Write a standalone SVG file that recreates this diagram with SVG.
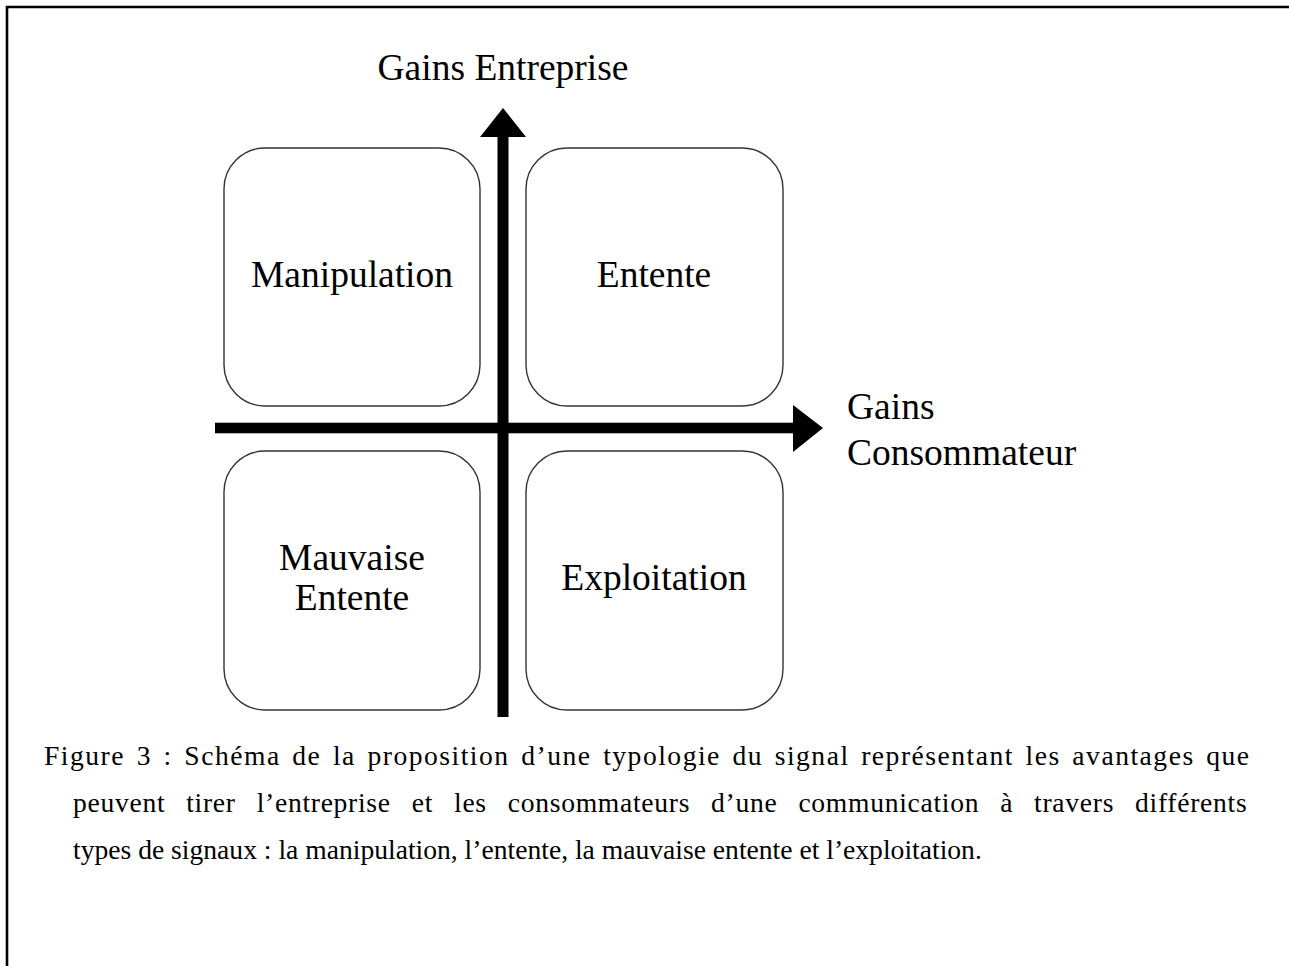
<svg xmlns="http://www.w3.org/2000/svg" width="1289" height="966" viewBox="0 0 1289 966">
<style>
.box{fill:#fff;stroke:#333;stroke-width:1.4}
.lbl{font-family:"Liberation Serif","Times New Roman",serif;font-size:37.5px;fill:#000}
.cap{font-family:"Liberation Serif","Times New Roman",serif;font-size:27.6px;fill:#000}
.axis{fill:#000}
</style>
<rect width="1289" height="966" fill="#fff"/>
<path d="M7 966 V7 H1289" fill="none" stroke="#000" stroke-width="2.6"/>
<g id="manipulation">
<rect class="box" x="224" y="148" width="256" height="258" rx="41"/>
<text class="lbl" x="352" y="287" text-anchor="middle">Manipulation</text>
</g>
<g id="entente">
<rect class="box" x="526" y="148" width="257" height="258" rx="41"/>
<text class="lbl" x="654" y="287" text-anchor="middle">Entente</text>
</g>
<g id="mauvaise-entente">
<rect class="box" x="224" y="451" width="256" height="259" rx="41"/>
<text class="lbl" x="352" y="570" text-anchor="middle">Mauvaise</text>
<text class="lbl" x="352" y="610" text-anchor="middle">Entente</text>
</g>
<g id="exploitation">
<rect class="box" x="526" y="451" width="257" height="259" rx="41"/>
<text class="lbl" x="654" y="590" text-anchor="middle">Exploitation</text>
</g>
<g id="connectors">
<rect class="axis" x="497.5" y="135" width="11" height="582"/>
<polygon class="axis" points="503,108 526,137 480,137"/>
<rect class="axis" x="215" y="422.7" width="580" height="10.6"/>
<polygon class="axis" points="823,428 793,405 793,452"/>
</g>
<g id="axis-labels">
<text class="lbl" x="503" y="80" text-anchor="middle">Gains Entreprise</text>
<text class="lbl" x="847" y="419">Gains</text>
<text class="lbl" x="847" y="465">Consommateur</text>
</g>
<g id="caption">
<text class="cap" x="44" y="765" letter-spacing="1.5" word-spacing="3.2">Figure 3 : Schéma de la proposition d’une typologie du signal représentant les avantages que</text>
<text class="cap" x="73" y="812" letter-spacing="0.7" word-spacing="13.4">peuvent tirer l’entreprise et les consommateurs d’une communication à travers différents</text>
<text class="cap" x="73" y="859">types de signaux : la manipulation, l’entente, la mauvaise entente et l’exploitation.</text>
</g>
</svg>
